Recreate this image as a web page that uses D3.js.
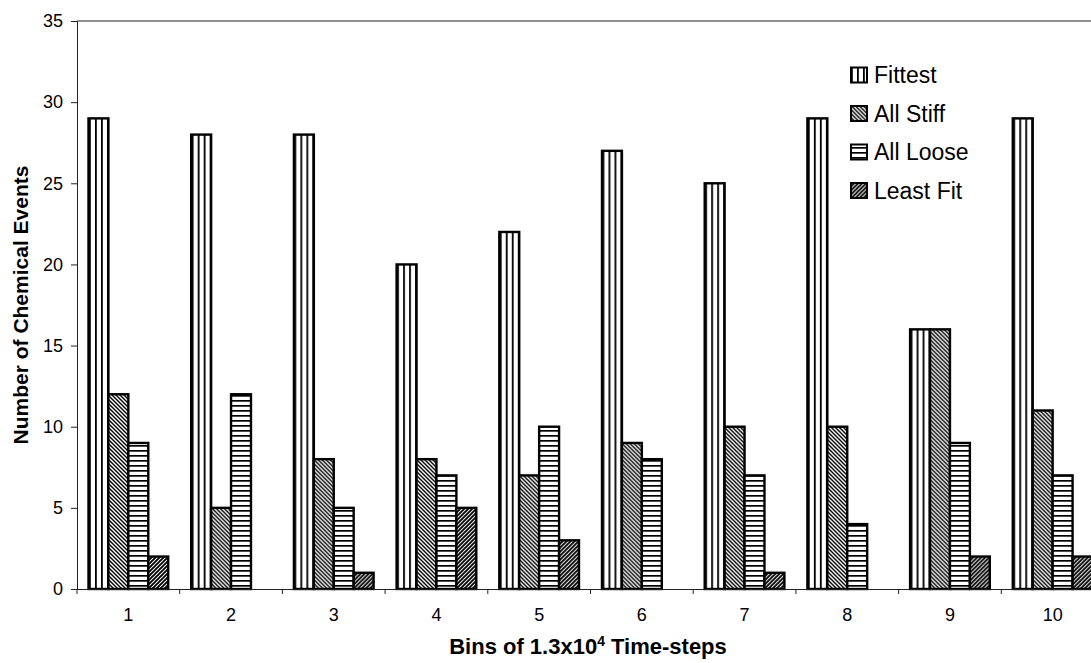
<!DOCTYPE html>
<html>
<head>
<meta charset="utf-8">
<script src="https://cdn.jsdelivr.net/npm/d3@7"></script>
<style>
  html, body { margin: 0; padding: 0; background: #fff; }
  svg { display: block; font-family: Arial, "Liberation Sans", sans-serif; }
</style>
</head>
<body>
<svg id="chart" width="1091" height="663"></svg>
<script>
// Chemical events per bin, for four groups of organisms
const categories = ["1", "2", "3", "4", "5", "6", "7", "8", "9", "10"];
const seriesNames = ["Fittest", "All Stiff", "All Loose", "Least Fit"];
const fittest  = [29, 28, 28, 20, 22, 27, 25, 29, 16, 29];
const allStiff = [12, 5, 8, 8, 7, 9, 10, 10, 16, 11];
const allLoose = [9, 12, 5, 7, 10, 8, 7, 4, 9, 7];
const leastFit = [2, 0, 1, 5, 3, 0, 1, 0, 2, 2];
const yTicks = [0, 5, 10, 15, 20, 25, 30, 35];

const seriesValues = [fittest, allStiff, allLoose, leastFit];
const patternIds = ["pat-fittest", "pat-stiff", "pat-loose", "pat-least"];

const svg = d3.select("#chart");
const margin = { left: 77, top: 21, right: -13, bottom: 74 };
const W = 1091, H = 663;
const FONT = "Arial, 'Liberation Sans', sans-serif";

// Hatch fills
const defs = svg.append("defs");
function pattern(id, w, h, draw) {
  const p = defs.append("pattern").attr("id", id)
    .attr("patternUnits", "userSpaceOnUse").attr("width", w).attr("height", h);
  p.append("rect").attr("width", w).attr("height", h).attr("fill", "#fff");
  draw(p);
}
pattern("pat-fittest", 6, 6, p => {
  p.append("rect").attr("x", 0).attr("y", 0).attr("width", 1.8).attr("height", 6).attr("fill", "#000");
});
pattern("pat-stiff", 4, 4, p => {
  p.append("path").attr("d", "M-1,-1 L5,5 M-1,3 L1,5 M3,-1 L5,1")
    .attr("stroke", "#000").attr("stroke-width", 1.4);
});
pattern("pat-loose", 5, 5, p => {
  p.append("rect").attr("x", 0).attr("y", 0).attr("width", 5).attr("height", 1.7).attr("fill", "#000");
});
pattern("pat-least", 4, 4, p => {
  p.append("path").attr("d", "M-1,5 L5,-1 M-1,1 L1,-1 M3,5 L5,3")
    .attr("stroke", "#000").attr("stroke-width", 1.9);
});

const x0 = d3.scaleBand().domain(categories).range([margin.left, W - margin.right]);
const groupPad = 11.5;
const x1 = d3.scaleBand().domain(seriesNames)
  .range([groupPad, x0.bandwidth() - groupPad]);
const y = d3.scaleLinear().domain([0, 35]).range([H - margin.bottom, margin.top]);
const y0 = y(0);

// Plot frame: top border
svg.append("line")
  .attr("x1", margin.left).attr("x2", W - margin.right)
  .attr("y1", y(35)).attr("y2", y(35))
  .attr("stroke", "#222").attr("stroke-width", 1);

// Bars
const rows = categories.map((c, i) => ({ cat: c, vals: seriesValues.map((s, k) => ({ key: seriesNames[k], k, v: s[i] })) }));
const g = svg.append("g").selectAll("g").data(rows).join("g")
  .attr("transform", d => `translate(${x0(d.cat)},0)`);
g.selectAll("rect").data(d => d.vals.filter(e => e.v > 0)).join("rect")
  .attr("x", d => x1(d.key))
  .attr("y", d => y(d.v))
  .attr("width", x1.bandwidth())
  .attr("height", d => y0 - y(d.v))
  .attr("fill", d => `url(#${patternIds[d.k]})`)
  .attr("stroke", "#000").attr("stroke-width", 2.4);

// Y axis
const yAxis = svg.append("g").attr("transform", `translate(${margin.left},0)`)
  .call(d3.axisLeft(y).tickValues(yTicks).tickSize(6).tickPadding(8));
yAxis.attr("font-size", null).attr("font-family", null);
yAxis.select(".domain").attr("stroke", "#222");
yAxis.selectAll(".tick line").attr("stroke", "#222");
yAxis.selectAll("text").style("font-size", "18px").style("font-family", FONT).attr("fill", "#000");

// X axis: labels centred in each bin, ticks at bin boundaries
const xAxis = svg.append("g").attr("transform", `translate(0,${y0})`)
  .call(d3.axisBottom(x0).tickSize(0).tickPadding(19));
xAxis.attr("font-size", null).attr("font-family", null);
xAxis.select(".domain").attr("stroke", "#222");
xAxis.selectAll("text").style("font-size", "18px").style("font-family", FONT).attr("fill", "#000");
svg.append("g").selectAll("line")
  .data(categories.map(c => x0(c)))
  .join("line")
  .attr("x1", d => d).attr("x2", d => d)
  .attr("y1", y0).attr("y2", y0 + 5)
  .attr("stroke", "#222");

// Axis titles
svg.append("text")
  .attr("transform", `translate(28,${(y(0) + y(35)) / 2}) rotate(-90)`)
  .attr("text-anchor", "middle")
  .style("font-size", "21px").attr("font-weight", "bold")
  .text("Number of Chemical Events");

const xt = svg.append("text")
  .attr("x", 588).attr("y", 654)
  .attr("text-anchor", "middle")
  .style("font-size", "22px").attr("font-weight", "bold");
xt.append("tspan").text("Bins of 1.3x10");
xt.append("tspan").style("font-size", "14px").attr("dy", -8).text("4");
xt.append("tspan").attr("dy", 8).text(" Time-steps");

// Legend
const legend = svg.append("g").attr("transform", "translate(851,0)");
const legendY = [75, 113.5, 152, 190.5];
seriesNames.forEach((name, k) => {
  const row = legend.append("g").attr("transform", `translate(0,${legendY[k]})`);
  row.append("rect").attr("x", 0).attr("y", -7.5).attr("width", 16).attr("height", 15)
    .attr("fill", `url(#${patternIds[k]})`).attr("stroke", "#000").attr("stroke-width", 2);
  row.append("text").attr("x", 23).attr("y", 8).style("font-size", "23px").text(name);
});
</script>
</body>
</html>
